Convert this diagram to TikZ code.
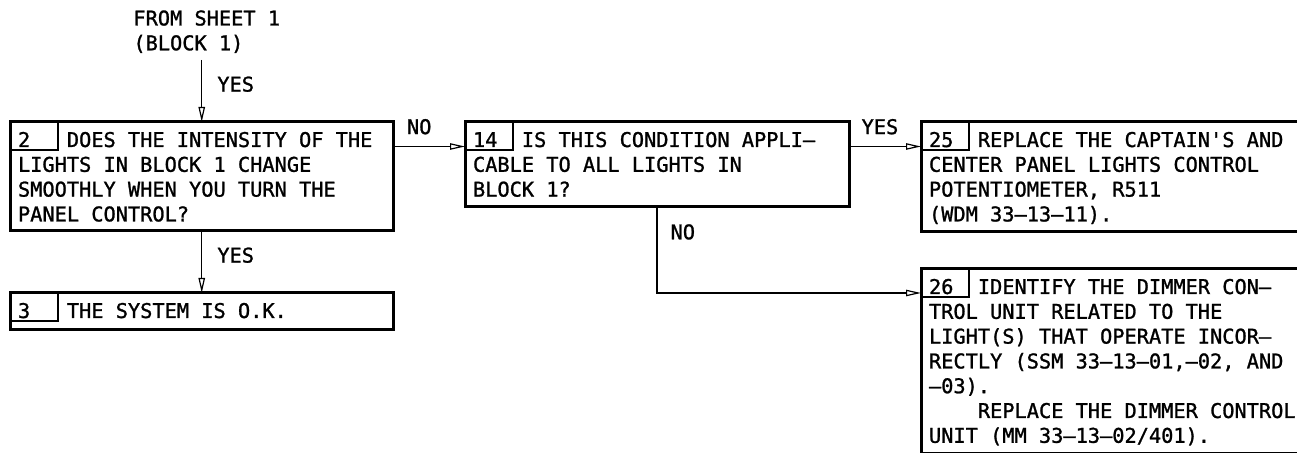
\documentclass[tikz,border=0pt]{standalone}
\usepackage{fontspec}
\newfontfamily\drawfont{DejaVu Sans Mono}[Ligatures=TeXOff, FakeBold=1.2]
\usetikzlibrary{arrows.meta,positioning,calc}

\newcommand\stepno[1]{\spaceskip=\fontdimen2\font\relax
  \rule{0pt}{12.5pt}\rlap{#1}\hphantom{0000}}
\newcommand\stepend[1][5.1pt]{\rule[-#1]{0pt}{0pt}}

\begin{document}
\begin{tikzpicture}[
      x=0.5pt, y=-0.5pt,
      txt/.style={font=\drawfont\fontsize{10.15pt}{12.4pt}\selectfont},
      stepbox/.style={txt, draw, line width=1.5pt, outer sep=0pt,
                      anchor=north west, align=left,
                      inner xsep=4pt, inner ysep=0pt},
      cell/.style={line width=0.6pt},
      lbl/.style={txt, inner sep=0pt},
      arr/.style={line width=0.6pt, -{Triangle[open, length=7.5pt, width=3.2pt]}}
    ]
    \useasboundingbox (0,0) rectangle (1297,453);
    \clip (0,0) rectangle (1297,453);

    % ---- entry ----
    \node[lbl, anchor=north west, align=left] (src) at (133,10)
      {FROM SHEET 1\\(BLOCK 1)};
    \coordinate (in) at (201.75,60);

    % ---- left column ----
    \node[stepbox, text width=183.75pt] (b2) at (10,122)
      {\stepno{2}DOES THE INTENSITY OF THE\\
       LIGHTS IN BLOCK 1 CHANGE\\
       SMOOTHLY WHEN YOU TURN THE\\
       PANEL CONTROL?\stepend[4.8pt]};
    \node[stepbox, text width=183.75pt] (b3) at (10,293)
      {\stepno{3}THE SYSTEM IS O.K.\stepend[6pt]};

    % ---- middle ----
    \node[stepbox, text width=184pt] (b14) at (465,122)
      {\stepno{14}IS THIS CONDITION APPLI–\\
       CABLE TO ALL LIGHTS IN\\
       BLOCK 1?\stepend[5.2pt]};

    % ---- right column ----
    \node[stepbox, text width=200pt] (b25) at (921,122)
      {\stepno{25}REPLACE THE CAPTAIN'S AND\\
       CENTER PANEL LIGHTS CONTROL\\
       POTENTIOMETER, R511\\
       (WDM 33–13–11).\stepend[5.3pt]};
    \node[stepbox, text width=200pt] (b26) at (921,269)
      {\stepno{26}IDENTIFY THE DIMMER CON–\\
       TROL UNIT RELATED TO THE\\
       LIGHT(S) THAT OPERATE INCOR–\\
       RECTLY (SSM 33–13–01,–02, AND\\
       –03).\\
       \hphantom{0000}REPLACE THE DIMMER CONTROL\\
       UNIT (MM 33–13–02/401).\stepend[5.5pt]};

    % number cells
    \foreach \b in {b2,b3,b14,b25,b26}
      \draw[cell] (\b.north west) rectangle ++(48,28);

    % ---- connectors ----
    \draw[arr] (in) -- node[lbl, pos=.39, anchor=west, xshift=7.5pt] {YES} (in |- b2.north);
    \draw[arr] (b2.south) -- node[lbl, pos=.39, anchor=west, xshift=7.5pt] {YES} (b3.north);
    \draw[arr] ($(b2.north east)+(0,24.5)$) --
      node[lbl, pos=.36, above=5.75pt] {NO} ($(b14.north west)+(0,24.5)$);
    \draw[arr] ($(b14.north east)+(0,24.5)$) --
      node[lbl, pos=.43, above=5.75pt] {YES} ($(b25.north west)+(0,24.5)$);
    \draw[arr] (b14.south) |-
      node[lbl, pos=.145, right=6.5pt] {NO} ($(b26.north west)+(0,24)$);
  \end{tikzpicture}
\end{document}
